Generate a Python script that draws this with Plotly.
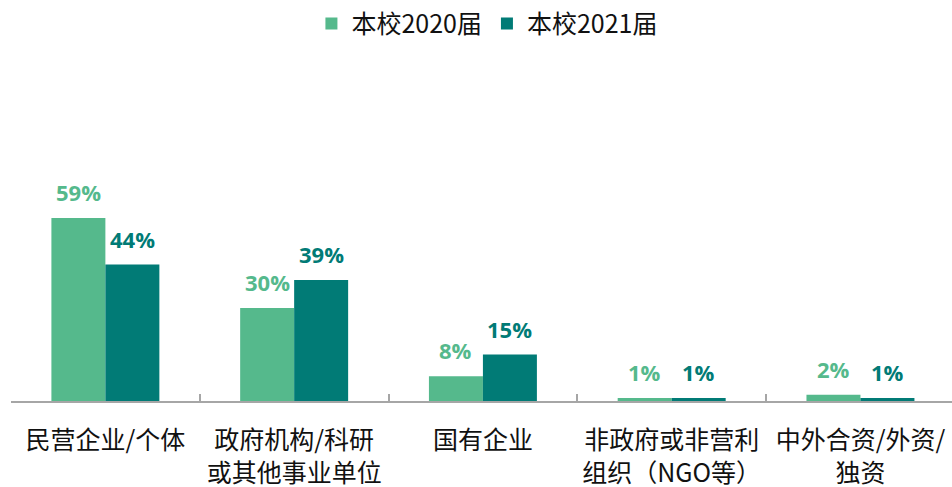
import plotly.graph_objects as go

# Employer type distribution for two graduating classes
categories = [
    "民营企业/个体",
    "政府机构/科研<br>或其他事业单位",
    "国有企业",
    "非政府或非营利<br>组织（NGO等）",
    "中外合资/外资/<br>独资",
]
series_names = ["本校2020届", "本校2021届"]
values_2020 = [59, 30, 8, 1, 2]
values_2021 = [44, 39, 15, 1, 1]
colors = ["#55B98C", "#017B76"]

CJK = "Noto Sans CJK SC"
LABEL_FONT = "Open Sans"

fig = go.Figure()
for name, vals, col in zip(series_names, [values_2020, values_2021], colors):
    fig.add_trace(go.Bar(
        x=categories, y=vals, name=name,
        marker=dict(color=col, line=dict(width=0)),
        hoverinfo="skip",
    ))

# value labels above each bar, offset to its half of the group
bar_px = 54
for offset, vals, col in zip([-bar_px / 2, bar_px / 2], [values_2020, values_2021], colors):
    for cat, v in zip(categories, vals):
        fig.add_annotation(
            x=cat, y=v, text=f"{v}%", showarrow=False,
            xshift=offset, yshift=26, yanchor="middle",
            font=dict(family=LABEL_FONT, size=22, color=col, weight="bold"),
        )

fig.update_layout(
    width=952, height=487,
    margin=dict(l=11, r=0, t=184, b=86, autoexpand=False),
    paper_bgcolor="white", plot_bgcolor="white",
    barmode="group", bargap=0.428, bargroupgap=0,
    font=dict(family=CJK, color="#111111"),
    showlegend=True,
    legend=dict(
        orientation="h", xref="container", yref="container",
        x=0.512, xanchor="center", y=0.951, yanchor="middle",
        font=dict(family=CJK, size=25, color="#111111"),
        itemclick=False, itemdoubleclick=False,
        traceorder="normal",
    ),
    xaxis=dict(
        type="category", range=[-0.5, 4.485],
        showline=True, linecolor="#A6A6A6", linewidth=2,
        ticks="inside", tickson="boundaries", ticklen=7,
        tickcolor="#A6A6A6", tickwidth=2,
        tickfont=dict(family=CJK, size=25, color="#111111"),
        tickangle=0, automargin=False,
        ticklabelstandoff=16,
        showgrid=False, zeroline=False, fixedrange=True,
    ),
    yaxis=dict(visible=False, range=[0, 70], fixedrange=True),
)

fig.write_html("out.html")
